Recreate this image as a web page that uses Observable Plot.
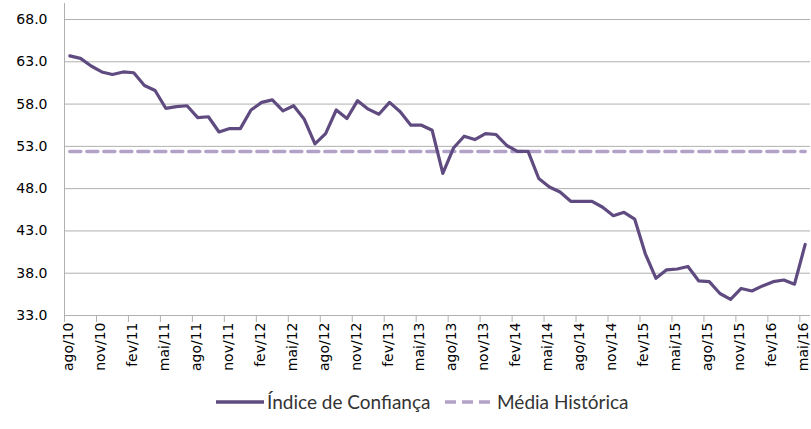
<!DOCTYPE html>
<html><head><meta charset="utf-8">
<script src="https://cdn.jsdelivr.net/npm/d3@7"></script>
<script src="https://cdn.jsdelivr.net/npm/@observablehq/plot@0.6"></script>
<style>
body{margin:0;background:#fff;}
#chart{position:relative;width:811px;height:429px;overflow:hidden;}
.legend{position:absolute;top:390px;display:flex;align-items:center;font-family:Lato, sans-serif;font-size:19px;color:#333;white-space:nowrap;}
.legend svg{margin-right:3px;}
</style></head><body><div id="chart"></div>
<script>
const tickLabels = ["ago/10","nov/10","fev/11","mai/11","ago/11","nov/11","fev/12","mai/12","ago/12","nov/12","fev/13","mai/13","ago/13","nov/13","fev/14","mai/14","ago/14","nov/14","fev/15","mai/15","ago/15","nov/15","fev/16","mai/16"];
const indiceConfianca = [63.7,63.4,62.5,61.8,61.5,61.8,61.7,60.2,59.6,57.5,57.7,57.8,56.4,56.5,54.7,55.1,55.1,57.3,58.2,58.5,57.2,57.8,56.2,53.3,54.5,57.3,56.3,58.4,57.4,56.8,58.2,57.1,55.5,55.5,54.9,49.8,52.8,54.2,53.8,54.5,54.4,53.1,52.4,52.4,49.2,48.2,47.6,46.5,46.5,46.5,45.8,44.8,45.2,44.4,40.3,37.4,38.4,38.5,38.8,37.1,37.0,35.6,34.9,36.2,35.9,36.5,37.0,37.2,36.7,41.4];
const mediaHistorica = 52.4;
const yTicks = [33,38,43,48,53,58,63,68];
const seriesNames = ["Índice de Confiança","Média Histórica"];
const colors = ["#5f4b80","#b3a2c7"];

const data = indiceConfianca.map((v,i)=>({i, v}));
const media = indiceConfianca.map((_,i)=>({i, v: mediaHistorica}));
const grid = "#b0b0b0";

const plot = Plot.plot({
  width:811, height:380, marginLeft:64, marginRight:1, marginTop:19, marginBottom:65,
  style:{fontFamily:"DejaVu Sans, sans-serif", fontSize:"14px", color:"#000", background:"#fff"},
  x:{type:"linear", domain:[-0.5, indiceConfianca.length-0.5]},
  y:{domain:[33,68]},
  marks:[
    Plot.ruleY(yTicks.slice(1), {stroke:grid, strokeWidth:1}),
    Plot.axisY({ticks:yTicks, tickSize:0, tickPadding:17, tickFormat:d=>d.toFixed(1), label:null}),
    Plot.axisX({ticks: tickLabels.map((_,k)=>3*k-0.5), tickSize:7, tickFormat:()=>"", stroke:grid, label:null}),
    Plot.axisX({ticks: tickLabels.map((_,k)=>3*k), tickSize:0, tickPadding:7, tickRotate:-90, dx:-1.5, tickFormat:d=>tickLabels[Math.round(d/3)], label:null}),
    Plot.ruleY([33], {stroke:grid, strokeWidth:1}),
    Plot.ruleX([-0.5], {y1:33, y2:69.9, stroke:grid, strokeWidth:1}),
    Plot.lineY(media, {x:"i", y:"v", stroke:colors[1], strokeWidth:3.5, strokeDasharray:"11,6"}),
    Plot.lineY(data, {x:"i", y:"v", stroke:colors[0], strokeWidth:3.2, strokeLinejoin:"round"})
  ]
});
const chart = document.getElementById("chart");
chart.appendChild(plot);

const positions = [216, 445];
const sampleWidths = [48, 49];
seriesNames.forEach((name, k) => {
  const d = document.createElement("div");
  d.className = "legend";
  d.style.left = positions[k] + "px";
  const w = sampleWidths[k];
  const dash = k === 1 ? 'stroke-dasharray="11,6"' : '';
  d.innerHTML = `<svg width="${w}" height="8"><line x1="0" x2="${w}" y1="4" y2="4" stroke="${colors[k]}" stroke-width="3.5" ${dash}/></svg><span>${name}</span>`;
  chart.appendChild(d);
});
</script></body></html>
